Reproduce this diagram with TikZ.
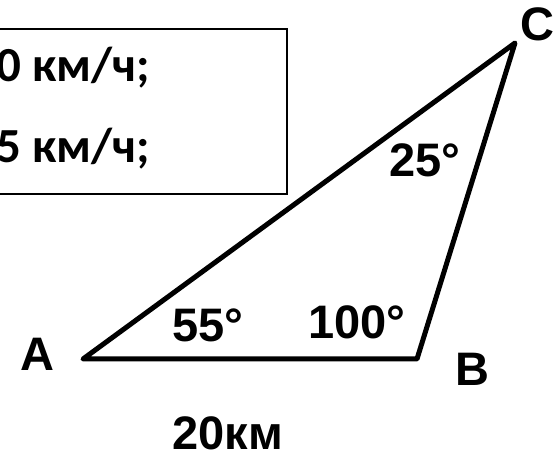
\documentclass[tikz,border=0pt]{standalone}
\usepackage{fontspec}
\setmainfont{Liberation Sans}
\newfontfamily\boxfont{Carlito}
\begin{document}
\begin{tikzpicture}[x=1pt,y=-1pt,
  lbl/.style={font=\fontsize{47}{47}\selectfont\bfseries, inner sep=0pt},
  boxtxt/.style={font=\boxfont\fontsize{49}{49}\selectfont\bfseries, inner sep=0pt, anchor=base west},
  side/.style={line width=5pt, line join=round}]
\useasboundingbox (0,0) rectangle (558,454);
\clip (0,0) rectangle (558,454);
\fill[white] (0,0) rectangle (558,454);
% info box
\draw[line width=2pt] (-20,29) rectangle (287,194);
\node[boxtxt] (v1) at (-4,82) {0 км/ч;};
\node[boxtxt] (v2) at (-4,163) {5 км/ч;};
% triangle
\coordinate (A) at (83,359);
\coordinate (B) at (417,359);
\coordinate (C) at (515,43);
\draw[side] (A) -- (B) -- (C) -- cycle;
% labels
\node[lbl] (la) at (37,354) {A};
\node[lbl] (lb) at (472,369) {B};
\node[lbl] (lc) at (537,24) {C};
\node[lbl] (a55) at (208,325) {55°};
\node[lbl] (a100) at (357,322) {100°};
\node[lbl] (a25) at (425,160) {25°};
\node[lbl] (d) at (228,433) {20км};
\end{tikzpicture}
\end{document}
